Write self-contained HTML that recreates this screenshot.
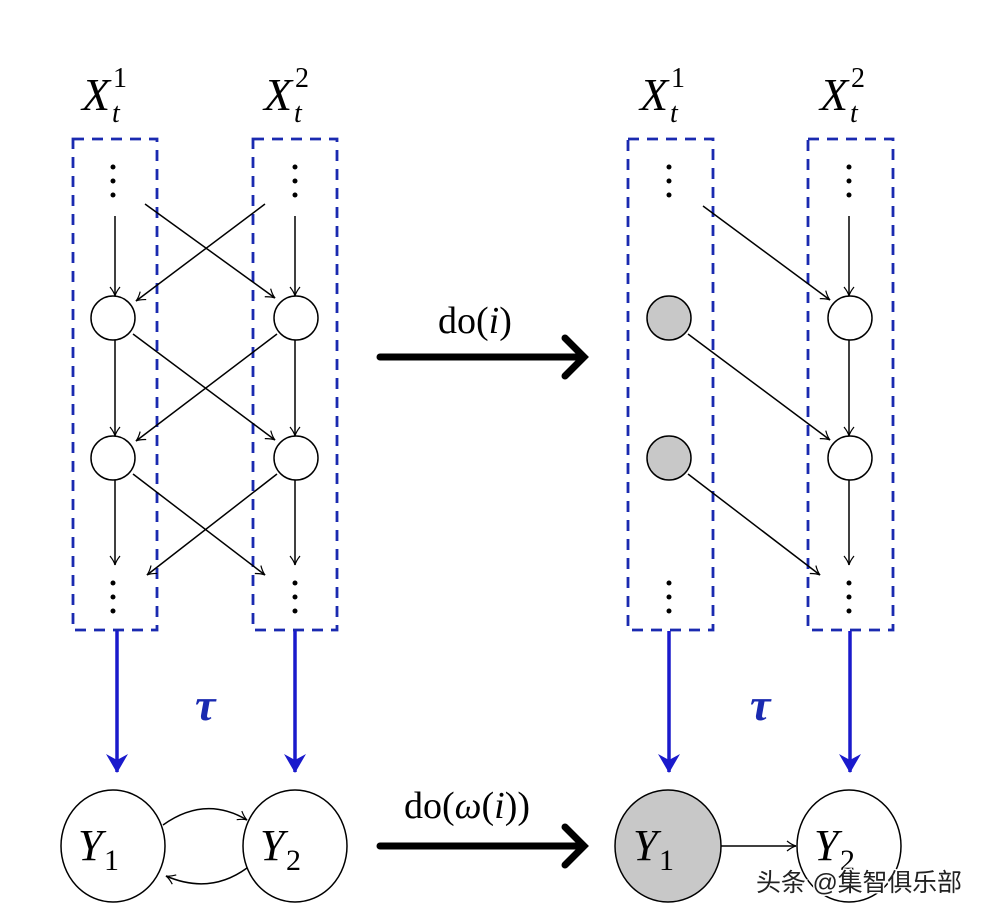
<!DOCTYPE html>
<html><head><style>
body{margin:0;background:#fff;}
svg{display:block;}
text{font-family:"Liberation Serif",serif;}
</style></head><body>
<svg width="984" height="914" viewBox="0 0 984 914" xmlns="http://www.w3.org/2000/svg">
<defs>
<marker id="a" markerWidth="12" markerHeight="12" refX="10" refY="6" orient="auto" markerUnits="userSpaceOnUse">
<path d="M1,1 Q6,5 10,6 Q6,7 1,11" fill="none" stroke="#000" stroke-width="1.2"/></marker>
<marker id="b" markerWidth="26" markerHeight="26" refX="20" refY="13" orient="auto" markerUnits="userSpaceOnUse">
<path d="M2,2 L21,13 L2,24 L8,13 Z" fill="#1a1acc"/></marker>
</defs>
<g font-style="italic" font-size="46">
<text x="82" y="110">X</text><text x="113" y="87" font-size="28" font-style="normal">1</text><text x="112" y="122" font-size="28">t</text>
<text x="264" y="110">X</text><text x="295" y="87" font-size="28" font-style="normal">2</text><text x="294" y="122" font-size="28">t</text>
<text x="640" y="110">X</text><text x="671" y="87" font-size="28" font-style="normal">1</text><text x="670" y="122" font-size="28">t</text>
<text x="820" y="110">X</text><text x="851" y="87" font-size="28" font-style="normal">2</text><text x="850" y="122" font-size="28">t</text>
</g>
<g fill="none" stroke="#1a2ab0" stroke-width="2.8" stroke-dasharray="11,8">
<rect x="73" y="139" width="84" height="491"/>
<rect x="253" y="139" width="84" height="491"/>
<rect x="628" y="139" width="85" height="491"/>
<rect x="808" y="139" width="85" height="491"/>
</g>
<g fill="#000">
<circle cx="113" cy="167" r="2.5"/><circle cx="113" cy="181" r="2.5"/><circle cx="113" cy="195" r="2.5"/>
<circle cx="295" cy="167" r="2.5"/><circle cx="295" cy="181" r="2.5"/><circle cx="295" cy="195" r="2.5"/>
<circle cx="113" cy="583" r="2.5"/><circle cx="113" cy="597" r="2.5"/><circle cx="113" cy="611" r="2.5"/>
<circle cx="295" cy="583" r="2.5"/><circle cx="295" cy="597" r="2.5"/><circle cx="295" cy="611" r="2.5"/>
<circle cx="669" cy="167" r="2.5"/><circle cx="669" cy="181" r="2.5"/><circle cx="669" cy="195" r="2.5"/>
<circle cx="849" cy="167" r="2.5"/><circle cx="849" cy="181" r="2.5"/><circle cx="849" cy="195" r="2.5"/>
<circle cx="669" cy="583" r="2.5"/><circle cx="669" cy="597" r="2.5"/><circle cx="669" cy="611" r="2.5"/>
<circle cx="849" cy="583" r="2.5"/><circle cx="849" cy="597" r="2.5"/><circle cx="849" cy="611" r="2.5"/>
</g>
<g stroke="#000" stroke-width="1.5" fill="none" marker-end="url(#a)">
<line x1="115" y1="216" x2="115" y2="296"/><line x1="295" y1="216" x2="295" y2="296"/>
<line x1="145" y1="204" x2="275" y2="298"/><line x1="265" y1="204" x2="136" y2="301"/>
<line x1="115" y1="340" x2="115" y2="436"/><line x1="295" y1="340" x2="295" y2="436"/>
<line x1="133" y1="334" x2="275" y2="440"/><line x1="277" y1="334" x2="136" y2="441"/>
<line x1="115" y1="480" x2="115" y2="565"/><line x1="295" y1="480" x2="295" y2="565"/>
<line x1="133" y1="474" x2="265" y2="575"/><line x1="277" y1="474" x2="147" y2="575"/>
<line x1="849" y1="216" x2="849" y2="296"/><line x1="849" y1="340" x2="849" y2="436"/><line x1="849" y1="480" x2="849" y2="565"/>
<line x1="703" y1="206" x2="830" y2="300"/>
<line x1="688" y1="334" x2="830" y2="440"/>
<line x1="688" y1="474" x2="820" y2="575"/>
<line x1="721" y1="846" x2="796" y2="846"/>
<path d="M163,825 Q205,795 247,820"/>
<path d="M247,868 Q210,895 166,876"/>
</g>
<g stroke="#000" stroke-width="1.5">
<circle cx="113" cy="318" r="22" fill="#fff"/><circle cx="296" cy="318" r="22" fill="#fff"/>
<circle cx="113" cy="458" r="22" fill="#fff"/><circle cx="296" cy="458" r="22" fill="#fff"/>
<circle cx="669" cy="318" r="22" fill="#c8c8c8"/><circle cx="669" cy="458" r="22" fill="#c8c8c8"/>
<circle cx="850" cy="318" r="22" fill="#fff"/><circle cx="850" cy="458" r="22" fill="#fff"/>
<ellipse cx="113" cy="846" rx="52" ry="56" fill="#fff"/><ellipse cx="295" cy="846" rx="52" ry="56" fill="#fff"/>
<ellipse cx="668" cy="846" rx="53" ry="56" fill="#c8c8c8"/><ellipse cx="849" cy="846" rx="52" ry="56" fill="#fff"/>
</g>
<g stroke="#1a1acc" stroke-width="3.5" marker-end="url(#b)">
<line x1="117" y1="631" x2="117" y2="772"/><line x1="295" y1="631" x2="295" y2="772"/>
<line x1="669" y1="631" x2="669" y2="772"/><line x1="850" y1="631" x2="850" y2="772"/>
</g>
<g fill="#1a2ab0" font-style="italic" font-size="46" font-weight="bold"><text x="195" y="720">τ</text><text x="750" y="720">τ</text></g>
<g stroke="#000" stroke-width="7" fill="none" stroke-linecap="round">
<line x1="380" y1="357" x2="580" y2="357"/><path d="M565,338 L584,357 L565,376"/>
<line x1="380" y1="846" x2="580" y2="846"/><path d="M565,827 L584,846 L565,865"/>
</g>
<text x="438" y="333" font-size="38">do(<tspan font-style="italic">i</tspan>)</text>
<text x="404" y="818" font-size="38">do(<tspan font-style="italic">ω</tspan>(<tspan font-style="italic">i</tspan>))</text>
<g font-size="44">
<text x="78" y="860" font-style="italic">Y</text><text x="104" y="870" font-size="30">1</text>
<text x="260" y="860" font-style="italic">Y</text><text x="286" y="870" font-size="30">2</text>
<text x="633" y="860" font-style="italic">Y</text><text x="659" y="870" font-size="30">1</text>
<text x="814" y="860" font-style="italic">Y</text><text x="840" y="870" font-size="30">2</text>
</g>
<text x="756" y="891" font-size="25" fill="#222" stroke="#fff" stroke-width="3" paint-order="stroke" textLength="206" style="font-family:'Liberation Sans','Noto Sans CJK SC',sans-serif">头条 @集智俱乐部</text>
</svg>
</body></html>
